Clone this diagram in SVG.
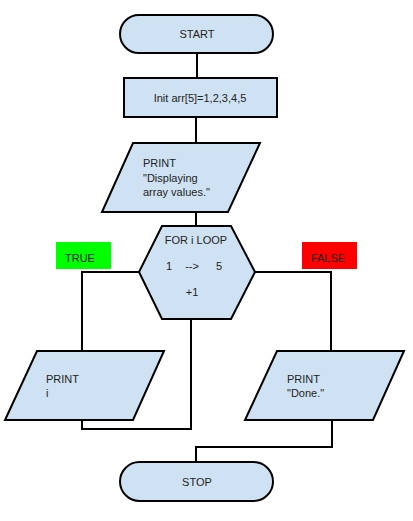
<svg xmlns="http://www.w3.org/2000/svg" width="413" height="521" viewBox="0 0 413 521">
<style>
.shape{fill:#cfe2f3;stroke:#000;stroke-width:2;stroke-linejoin:miter}
.conn{fill:none;stroke:#000;stroke-width:2}
text{font-family:"Liberation Sans",Arial,sans-serif;font-size:11px;fill:#222}
.c{text-anchor:middle}
</style>
<rect width="413" height="521" fill="#fff"/>
<g id="connectors">
<path class="conn" d="M197 53 V78"/>
<path class="conn" d="M196 117 V143"/>
<path class="conn" d="M196 212 V226"/>
<path class="conn" d="M139 272 H82 V351"/>
<path class="conn" d="M82 420 V429 H191 V319"/>
<path class="conn" d="M255 272 H331 V351"/>
<path class="conn" d="M332 420 V447 H196 V462"/>
</g>
<g id="start">
<rect class="shape" x="120" y="15" width="153" height="38" rx="19" ry="19"/>
<text class="c" x="197" y="38">START</text>
</g>
<g id="init">
<rect class="shape" x="124" y="78" width="153" height="39"/>
<text class="c" x="200" y="102">Init arr[5]=1,2,3,4,5</text>
</g>
<g id="print1">
<polygon class="shape" points="133,143 260,143 228,212 102,212"/>
<text x="143" y="167">PRINT</text>
<text x="143" y="182">"Displaying</text>
<text x="143" y="196">array values."</text>
</g>
<g id="loop">
<polygon class="shape" points="162,226 231,226 255,272 231,319 162,319 139,272"/>
<text class="c" x="196" y="244">FOR i LOOP</text>
<text class="c" x="169" y="270">1</text>
<text class="c" x="192" y="270">--&gt;</text>
<text class="c" x="219" y="270">5</text>
<text class="c" x="192" y="296">+1</text>
</g>
<g id="true-label">
<rect x="56" y="242" width="55" height="27" fill="#00ff00"/>
<text class="c" x="80" y="262">TRUE</text>
</g>
<g id="false-label">
<rect x="302" y="242" width="55" height="27" fill="#ff0000"/>
<text class="c" x="328" y="262">FALSE</text>
</g>
<g id="print-i">
<polygon class="shape" points="37,351 164,351 133,420 5,420"/>
<text x="46" y="383">PRINT</text>
<text x="46" y="397">i</text>
</g>
<g id="print-done">
<polygon class="shape" points="277,351 404,351 373,420 245,420"/>
<text x="287" y="383">PRINT</text>
<text x="287" y="397">"Done."</text>
</g>
<g id="stop">
<rect class="shape" x="120" y="462" width="153" height="39" rx="19.5" ry="19.5"/>
<text class="c" x="197" y="486">STOP</text>
</g>
</svg>
